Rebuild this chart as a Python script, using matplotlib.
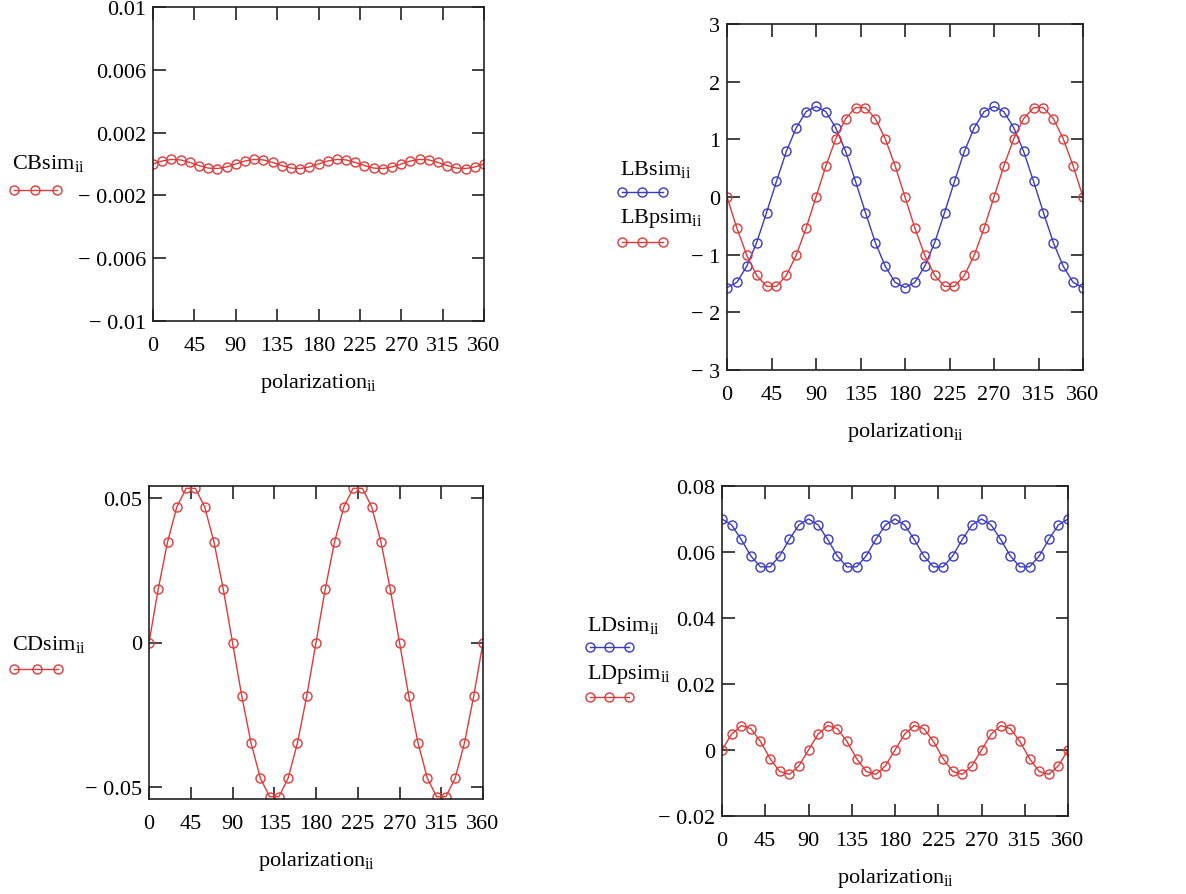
import matplotlib
matplotlib.use("Agg")
import matplotlib.pyplot as plt
from matplotlib.lines import Line2D

plt.rcParams['font.family'] = ['Liberation Serif', 'DejaVu Serif']
plt.rcParams['mathtext.fontset'] = 'custom'
plt.rcParams['mathtext.rm'] = 'Liberation Serif'

# ---------------- data ----------------
polarization = [0, 10, 20, 30, 40, 50, 60, 70, 80, 90, 100, 110, 120, 130, 140, 150, 160, 170, 180,
                190, 200, 210, 220, 230, 240, 250, 260, 270, 280, 290, 300, 310, 320, 330, 340, 350, 360]

CBsim = [0.0, 0.00019, 0.00029, 0.00026, 0.0001, -0.0001, -0.00026, -0.00029, -0.00019,
         0.0, 0.00019, 0.00029, 0.00026, 0.0001, -0.0001, -0.00026, -0.00029, -0.00019,
         0.0, 0.00019, 0.00029, 0.00026, 0.0001, -0.0001, -0.00026, -0.00029, -0.00019,
         0.0, 0.00019, 0.00029, 0.00026, 0.0001, -0.0001, -0.00026, -0.00029, -0.00019, 0.0]

LBsim = [-1.57, -1.48, -1.20, -0.79, -0.27, 0.27, 0.79, 1.20, 1.48, 1.57, 1.48, 1.20, 0.79, 0.27,
         -0.27, -0.79, -1.20, -1.48, -1.57, -1.48, -1.20, -0.79, -0.27, 0.27, 0.79, 1.20, 1.48,
         1.57, 1.48, 1.20, 0.79, 0.27, -0.27, -0.79, -1.20, -1.48, -1.57]

LBpsim = [0.0, -0.54, -1.01, -1.36, -1.55, -1.55, -1.36, -1.01, -0.54, 0.0, 0.54, 1.01, 1.36, 1.55,
          1.55, 1.36, 1.01, 0.54, 0.0, -0.54, -1.01, -1.36, -1.55, -1.55, -1.36, -1.01, -0.54,
          0.0, 0.54, 1.01, 1.36, 1.55, 1.55, 1.36, 1.01, 0.54, 0.0]

CDsim = [0.0, 0.0185, 0.0347, 0.0468, 0.0532, 0.0532, 0.0468, 0.0347, 0.0185, 0.0,
         -0.0185, -0.0347, -0.0468, -0.0532, -0.0532, -0.0468, -0.0347, -0.0185, 0.0,
         0.0185, 0.0347, 0.0468, 0.0532, 0.0532, 0.0468, 0.0347, 0.0185, 0.0,
         -0.0185, -0.0347, -0.0468, -0.0532, -0.0532, -0.0468, -0.0347, -0.0185, 0.0]

LDsim = [0.070, 0.0682, 0.0638, 0.0588, 0.0555, 0.0555, 0.0588, 0.0638, 0.0682,
         0.070, 0.0682, 0.0638, 0.0588, 0.0555, 0.0555, 0.0588, 0.0638, 0.0682,
         0.070, 0.0682, 0.0638, 0.0588, 0.0555, 0.0555, 0.0588, 0.0638, 0.0682,
         0.070, 0.0682, 0.0638, 0.0588, 0.0555, 0.0555, 0.0588, 0.0638, 0.0682, 0.070]

LDpsim = [0.0, 0.0048, 0.0074, 0.0065, 0.0026, -0.0026, -0.0065, -0.0074, -0.0048,
          0.0, 0.0048, 0.0074, 0.0065, 0.0026, -0.0026, -0.0065, -0.0074, -0.0048,
          0.0, 0.0048, 0.0074, 0.0065, 0.0026, -0.0026, -0.0065, -0.0074, -0.0048,
          0.0, 0.0048, 0.0074, 0.0065, 0.0026, -0.0026, -0.0065, -0.0074, -0.0048, 0.0]

x_ticks = [0, 45, 90, 135, 180, 225, 270, 315, 360]

CB_ticks = [-0.01, -0.006, -0.002, 0.002, 0.006, 0.01]
CB_labels = ["\u2212 0.01", "\u2212 0.006", "\u2212 0.002", "0.002", "0.006", "0.01"]
LB_ticks = [-3, -2, -1, 0, 1, 2, 3]
LB_labels = ["\u2212 3", "\u2212 2", "\u2212 1", "0", "1", "2", "3"]
CD_ticks = [-0.05, 0, 0.05]
CD_labels = ["\u2212 0.05", "0", "0.05"]
LD_ticks = [-0.02, 0, 0.02, 0.04, 0.06, 0.08]
LD_labels = ["\u2212 0.02", "0", "0.02", "0.04", "0.06", "0.08"]

RED = "#e03a3a"
BLUE = "#3a3ac8"

W, H = 1186, 895
fig = plt.figure(figsize=(W / 100, H / 100), dpi=100)


def ax_px(l, t, r, b):
    return fig.add_axes([l / W, 1 - b / H, (r - l) / W, (b - t) / H])


FS = 16
sub = r"$_{\mathregular{ii}}$"


def style(ax, yt, yl, ylim):
    ax.set_xlim(0, 360)
    ax.set_ylim(*ylim)
    ax.set_xticks(x_ticks)
    ax.set_xticklabels([str(v) for v in x_ticks], fontsize=FS)
    ax.set_yticks(yt)
    ax.set_yticklabels(yl, fontsize=FS)
    ax.tick_params(direction='in', length=9, width=1.2, top=True, right=True,
                   color='#222222')
    ax.tick_params(axis='x', pad=11)
    ax.tick_params(axis='y', pad=5)
    for s in ax.spines.values():
        s.set_linewidth(1.2)
        s.set_color('#222222')
    ax.set_xlabel("polarization" + sub, fontsize=FS, labelpad=11)


def plot(ax, y, c):
    ax.plot(polarization, y, color=c, lw=1.0, marker='o', ms=6.5, mfc='none',
            mec=c, mew=1.0, clip_on=True)


def legend_entry(xt, yt, label, yl, xs, c):
    fig.text(xt / W, 1 - yt / H, label, fontsize=FS, va='center', ha='left')
    fig.add_artist(Line2D([x / W for x in xs], [1 - yl / H] * len(xs), color=c, lw=1.0,
                          marker='o', ms=6.5, mfc='none', mec=c, mew=1.0,
                          transform=fig.transFigure))


# Panel 1: CB
ax1 = ax_px(153, 8, 484, 322)
plot(ax1, CBsim, RED)
style(ax1, CB_ticks, CB_labels, (-0.01, 0.01))
legend_entry(12, 164, "CBsim" + sub, 191, [14, 35, 57], RED)

# Panel 2: LB
ax2 = ax_px(727, 25, 1083, 371)
plot(ax2, LBsim, BLUE)
plot(ax2, LBpsim, RED)
style(ax2, LB_ticks, LB_labels, (-3, 3))
legend_entry(620, 170, "LBsim" + sub, 193, [622, 642, 663], BLUE)
legend_entry(620, 219, "LBpsim" + sub, 243, [622, 642, 663], RED)

# Panel 3: CD
ax3 = ax_px(149, 487, 483, 800)
plot(ax3, CDsim, RED)
style(ax3, CD_ticks, CD_labels, (-0.054, 0.054))
legend_entry(12, 645, "CDsim" + sub, 670, [14, 37, 58], RED)

# Panel 4: LD
ax4 = ax_px(722, 487, 1068, 817)
plot(ax4, LDsim, BLUE)
plot(ax4, LDpsim, RED)
style(ax4, LD_ticks, LD_labels, (-0.02, 0.08))
legend_entry(587, 626, "LDsim" + sub, 648, [590, 609, 629], BLUE)
legend_entry(587, 675, "LDpsim" + sub, 698, [590, 609, 629], RED)

fig.savefig("out.png", dpi=100)
